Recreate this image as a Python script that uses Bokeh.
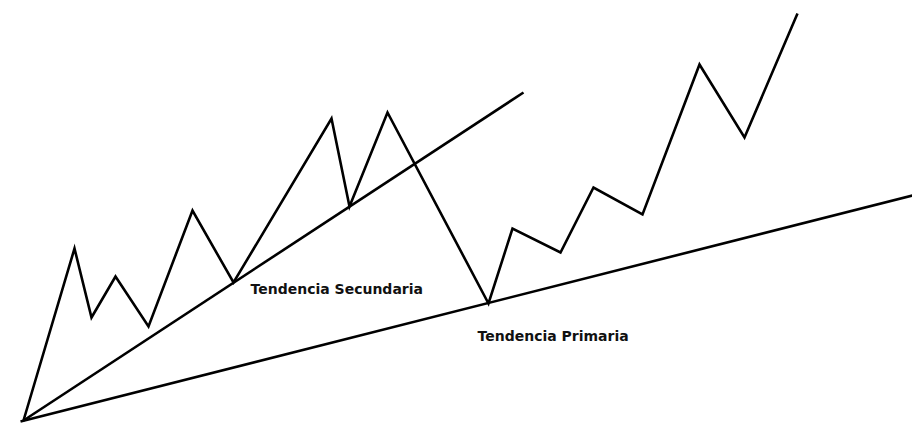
from bokeh.plotting import figure
from bokeh.models import Range1d
from bokeh.core.properties import value
from bokeh.embed import file_html
from bokeh.resources import INLINE

# Price path (x position, price level)
price_x = [23, 74, 91, 115, 148, 192, 233, 331, 349, 387, 488, 512, 560, 593, 642, 699, 744, 797]
price_y = [6, 178, 109, 150, 100, 216, 144, 308, 220, 314, 123, 198, 174, 239, 212, 362, 289, 413]

# Trend lines (start / end)
secundaria_x = [23, 523]
secundaria_y = [6, 334]
primaria_x = [20, 912]
primaria_y = [5, 231]

# Labels
label_text = ["Tendencia Secundaria", "Tendencia Primaria"]
label_x = [250, 477]
label_y = [138, 91]

W, H = 912, 426
p = figure(width=W, height=H, output_backend="svg", toolbar_location=None,
           x_range=Range1d(0, W), y_range=Range1d(0, H),
           min_border=0, outline_line_color=None)
p.axis.visible = False
p.grid.visible = False
p.background_fill_color = "white"
p.border_fill_color = "white"

p.line(secundaria_x, secundaria_y, line_color="black", line_width=2.6)
p.line(primaria_x, primaria_y, line_color="black", line_width=2.6)
p.line(price_x, price_y, line_color="black", line_width=2.6, line_join="miter")

p.text(x=label_x, y=label_y, text=label_text, text_font=value("DejaVu Sans"),
       text_font_style="bold", text_font_size="14px", text_color="#111111",
       text_baseline="middle", text_align="left")

open("out.html", "w").write(file_html(p, INLINE))
